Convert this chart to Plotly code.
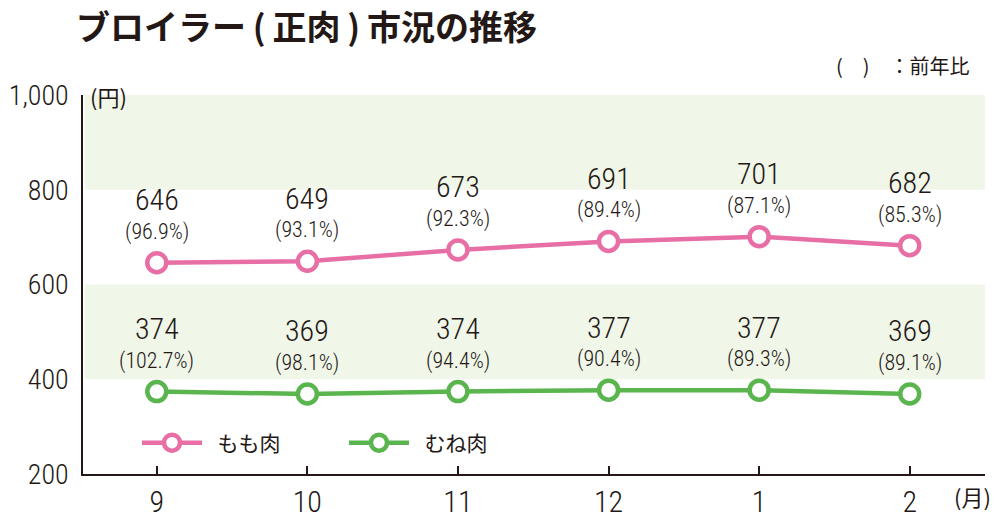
import plotly.graph_objects as go

months = ["9", "10", "11", "12", "1", "2"]
momo = [646, 649, 673, 691, 701, 682]
momo_pct = [96.9, 93.1, 92.3, 89.4, 87.1, 85.3]
mune = [374, 369, 374, 377, 377, 369]
mune_pct = [102.7, 98.1, 94.4, 90.4, 89.3, 89.1]
y_ticks = [200, 400, 600, 800, 1000]
y_ticklabels = ["200", "400", "600", "800", "1,000"]

PINK = "#e86ea6"
GREEN = "#5ab54e"
BAND = "#f0f6e8"
TXT = "#231815"
NUM_FONT = "Roboto Condensed, Liberation Sans Narrow, Roboto, Noto Sans CJK JP"
JP_FONT = "Noto Sans CJK JP"
NW = 300

xs = list(range(len(months)))

fig = go.Figure()
fig.add_trace(go.Scatter(
    x=xs, y=momo, name="\u2002もも肉", mode="lines+markers",
    line=dict(color=PINK, width=4.5),
    marker=dict(symbol="circle", size=19, color="white", line=dict(color=PINK, width=4.5)),
))
fig.add_trace(go.Scatter(
    x=xs, y=mune, name="\u2002むね肉", mode="lines+markers",
    line=dict(color=GREEN, width=4.5),
    marker=dict(symbol="circle", size=19, color="white", line=dict(color=GREEN, width=4.5)),
))

shapes = []
for lo, hi in [(800, 1000), (400, 600)]:
    shapes.append(dict(type="rect", xref="paper", yref="y", x0=0.002, x1=1, y0=lo, y1=hi,
                       fillcolor=BAND, line=dict(width=0), layer="below"))

annotations = []
for series, pcts in [(momo, momo_pct), (mune, mune_pct)]:
    for i, (v, p) in enumerate(zip(series, pcts)):
        annotations.append(dict(x=i, y=v, xref="x", yref="y", text=str(v), showarrow=False,
                                yshift=63, yanchor="middle",
                                font=dict(family=NUM_FONT, size=30, color=TXT, weight=NW)))
        annotations.append(dict(x=i, y=v, xref="x", yref="y", text=f"({p:.1f}%)", showarrow=False,
                                yshift=31, yanchor="middle",
                                font=dict(family=NUM_FONT, size=22, color=TXT, weight=NW)))

W, H = 1000, 520
L, R, T, B = 83, 15, 95, 46
pw, ph = W - L - R, H - T - B

pix_annots = [
    dict(x=75, y=0, text="<b>ブロイラー\u2009(\u2009正肉\u2009)\u2009市況の推移</b>", xanchor="left",
         yanchor="top", borderpad=0, font=dict(family=JP_FONT, size=34, color=TXT)),
    dict(x=972, y=65, text="(　)　：前年比", xanchor="right",
         font=dict(family=JP_FONT, size=20, color=TXT)),
    dict(x=88, y=96, text="(円)", xanchor="left",
         font=dict(family=JP_FONT, size=22, color=TXT)),
    dict(x=952, y=496, text="(月)", xanchor="left",
         font=dict(family=JP_FONT, size=22, color=TXT)),
]
for a in pix_annots:
    a["xref"] = "paper"
    a["yref"] = "paper"
    a["showarrow"] = False
    a.setdefault("yanchor", "middle")
    a["x"] = (a["x"] - L) / pw
    a["y"] = (H - B - a["y"]) / ph
    annotations.append(a)

fig.update_layout(
    width=W, height=H,
    margin=dict(l=L, r=R, t=T, b=B, autoexpand=False),
    plot_bgcolor="white", paper_bgcolor="white",
    shapes=shapes, annotations=annotations,
    showlegend=True,
    legend=dict(orientation="h", x=(137 - L) / pw, y=(H - B - 443) / ph, xanchor="left", yanchor="middle",
                font=dict(family=JP_FONT, size=21, color=TXT), bgcolor="rgba(0,0,0,0)",
                entrywidth=132, entrywidthmode="pixels", itemwidth=60),
    xaxis=dict(range=[-0.49, 5.5], tickmode="array", tickvals=xs, ticktext=months,
               showline=True, linecolor=TXT, linewidth=1.5, ticks="inside", ticklen=8,
               tickcolor=TXT, tickwidth=1.5, showgrid=False, zeroline=False, automargin=False,
               tickfont=dict(family=NUM_FONT, size=30, color=TXT, weight=NW)),
    yaxis=dict(range=[200, 1000], tickmode="array", tickvals=y_ticks, ticktext=y_ticklabels,
               showline=True, linecolor=TXT, linewidth=1.5, ticks="", showgrid=False, zeroline=False,
               ticklabelstandoff=7, automargin=False,
               tickfont=dict(family=NUM_FONT, size=28, color=TXT, weight=NW)),
)

fig.write_html("out.html")
